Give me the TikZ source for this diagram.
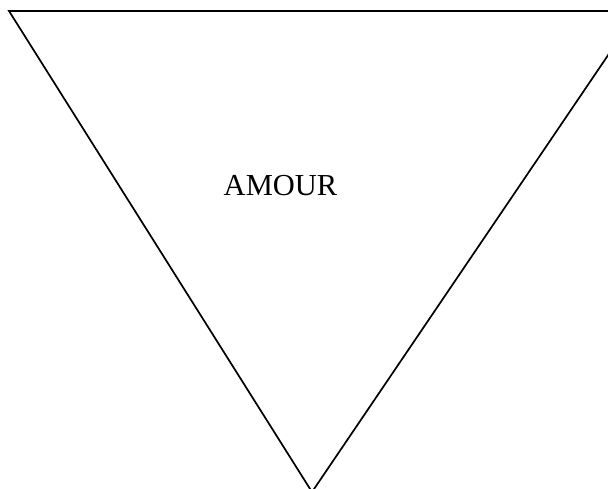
\documentclass[tikz,border=0pt]{standalone}
\usepackage{fontspec}
\setmainfont{Liberation Serif}
\begin{document}
\begin{tikzpicture}[x=1pt,y=-1pt,
  tri/.style={draw=black,line width=1.7pt,line join=miter},
  lbl/.style={font=\fontsize{30.5}{36}\selectfont,inner sep=0pt}]
\useasboundingbox (0,0) rectangle (608,489);
\begin{scope}
\clip (0,0) rectangle (608,489);
\coordinate (tl) at (9,11);
\coordinate (tr) at (638,11);
\coordinate (b) at (312,492);
\draw[tri] (tl) -- (tr) -- (b) -- cycle;
\end{scope}
\node[lbl,anchor=base] (t) at (280.5,196) {AMOUR};
\end{tikzpicture}
\end{document}
